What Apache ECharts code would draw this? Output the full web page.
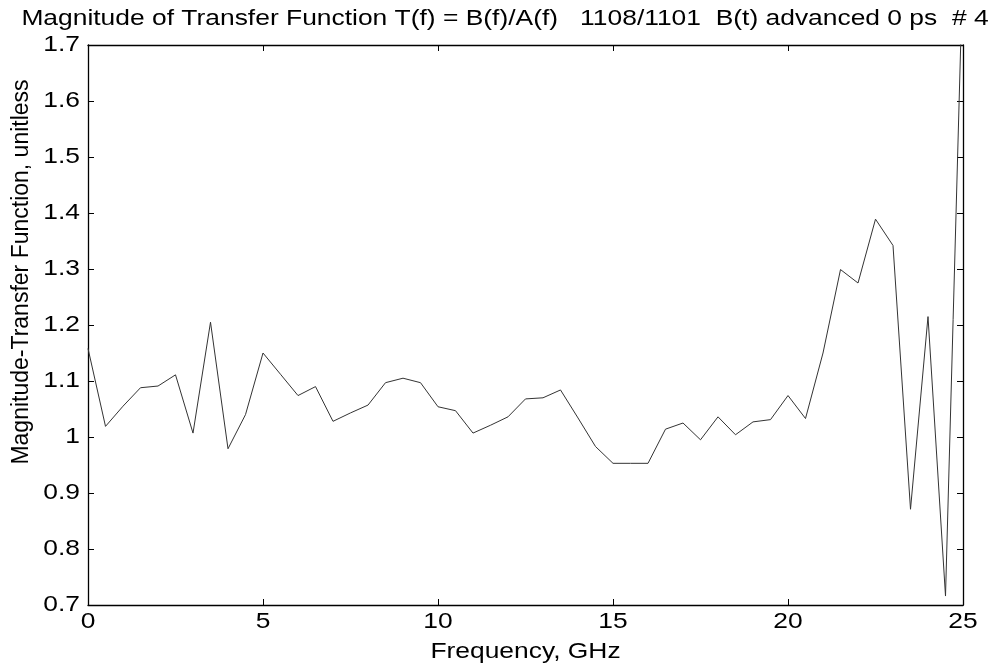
<!DOCTYPE html>
<html>
<head>
<meta charset="utf-8">
<script src="https://cdn.jsdelivr.net/npm/echarts@6/dist/echarts.min.js"></script>
<style>
html,body{margin:0;padding:0;background:#fff;}
#chart{width:1001px;height:666px;}
</style>
</head>
<body>
<div id="chart"></div>
<script>
const titleText = 'Magnitude of Transfer Function T(f) = B(f)/A(f)   1108/1101  B(t) advanced 0 ps  # 4';
const xAxisName = 'Frequency, GHz';
const yAxisName = 'Magnitude-Transfer Function, unitless';
const frequencies = [0,0.5,1,1.5,2,2.5,3,3.5,4,4.5,5,5.5,6,6.5,7,7.5,8,8.5,9,9.5,10,10.5,11,11.5,12,12.5,13,13.5,14,14.5,15,15.5,16,16.5,17,17.5,18,18.5,19,19.5,20,20.5,21,21.5,22,22.5,23,23.5,24,24.5,25];
const magnitudes = [1.158,1.019,1.055,1.088,1.091,1.111,1.007,1.205,0.979,1.040,1.150,1.112,1.074,1.090,1.028,1.043,1.057,1.097,1.105,1.097,1.054,1.047,1.007,1.021,1.036,1.068,1.070,1.084,1.034,0.983,0.953,0.953,0.953,1.014,1.025,0.995,1.036,1.004,1.027,1.031,1.074,1.033,1.150,1.299,1.275,1.389,1.342,0.871,1.215,0.716,1.85];
const xTicks = [0,5,10,15,20,25];
const xTickLabels = ['0','5','10','15','20','25'];
const yTicks = [0.7,0.8,0.9,1.0,1.1,1.2,1.3,1.4,1.5,1.6,1.7];
const yTickLabels = ['0.7','0.8','0.9','1','1.1','1.2','1.3','1.4','1.5','1.6','1.7'];

(function(){
const font = 'Liberation Sans, Arial, sans-serif';
const fs = 22;
const stretch = 1.2;
const chart = echarts.init(document.getElementById('chart'), null, {renderer:'canvas'});
const data = frequencies.map((f,i)=>[f, magnitudes[i]]);
const xBase = {
  type:'value', min:xTicks[0], max:xTicks[xTicks.length-1], interval:5,
  axisLine:{show:true, onZero:false, lineStyle:{color:'#000', width:1.3}},
  axisTick:{show:true, inside:true, length:6, lineStyle:{color:'#000'}},
  axisLabel:{show:false}, splitLine:{show:false}
};
const yBase = {
  type:'value', min:yTicks[0], max:yTicks[yTicks.length-1], interval:0.1,
  axisLine:{show:true, onZero:false, lineStyle:{color:'#000', width:1.3}},
  axisTick:{show:true, inside:true, length:6, lineStyle:{color:'#000'}},
  axisLabel:{show:false}, splitLine:{show:false}
};
chart.setOption({
  backgroundColor:'#fff',
  animation:false,
  grid:{left:88, right:38, top:45, bottom:61, show:false},
  xAxis:[
    Object.assign({}, xBase, {position:'bottom'}),
    Object.assign({}, xBase, {position:'top'})
  ],
  yAxis:[
    Object.assign({}, yBase, {position:'left'}),
    Object.assign({}, yBase, {position:'right'})
  ],
  series:[{
    type:'line', data:data, xAxisIndex:0, yAxisIndex:0, symbol:'none', clip:true,
    lineStyle:{color:'#333', width:1}
  }]
});

function txt(text, x, y, align, valign, sx, rot, size){
  return {type:'text', x:x, y:y, scaleX:sx||1, rotation:rot||0, silent:true,
    style:{text:text, fill:'#000', font: (size||fs)+'px '+font,
      align:align, verticalAlign:valign, textAlign:align, textVerticalAlign:valign}};
}
const g = [];
const pxLeft = chart.convertToPixel({xAxisIndex:0}, xTicks[0]);
const pxRight = chart.convertToPixel({xAxisIndex:0}, xTicks[xTicks.length-1]);
const pxBottom = chart.convertToPixel({yAxisIndex:0}, yTicks[0]);
const cx = (pxLeft+pxRight)/2;
g.push(txt(titleText, 505, 8, 'center', 'top', 1.2));
xTicks.forEach((t,i)=>{
  g.push(txt(xTickLabels[i], chart.convertToPixel({xAxisIndex:0}, t), pxBottom+6, 'center', 'top', stretch));
});
yTicks.forEach((t,i)=>{
  g.push(txt(yTickLabels[i], pxLeft-8, chart.convertToPixel({yAxisIndex:0}, t), 'right', 'middle', stretch));
});
g.push(txt(xAxisName, cx, pxBottom+36, 'center', 'top', stretch));
g.push(txt(yAxisName, 22, 272, 'center', 'middle', 1, Math.PI/2, 23));
chart.setOption({graphic:g});
})();
</script>
</body>
</html>
